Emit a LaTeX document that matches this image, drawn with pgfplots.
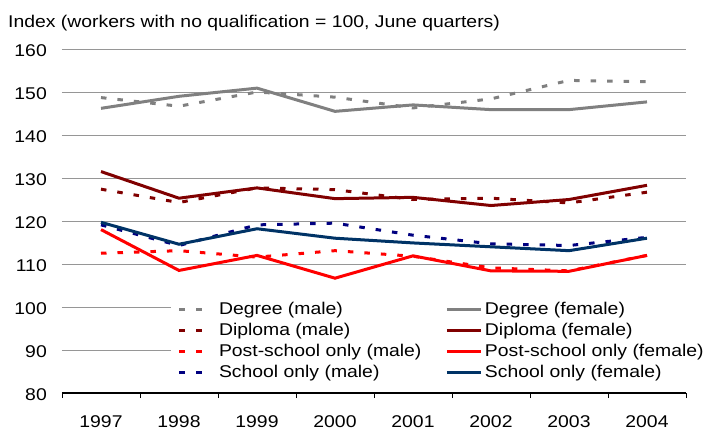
\documentclass[border=0pt]{standalone}
\usepackage{fontspec}
\setmainfont{Liberation Sans}[FakeStretch=1.14]
\usepackage{pgfplots}
\pgfplotsset{compat=1.18}

\definecolor{dgray}{RGB}{128,128,128}
\definecolor{dred}{RGB}{128,0,0}
\definecolor{bred}{RGB}{255,0,0}
\definecolor{navy}{RGB}{0,0,128}
\definecolor{steel}{RGB}{0,51,102}
\definecolor{gridc}{RGB}{150,150,150}
\newcommand{\chartfont}{\fontsize{17pt}{20pt}\selectfont}

\pgfplotsset{
  male/.style={line width=3pt, dash pattern=on 5.5pt off 11pt,
    legend image code/.code={\path[draw=none, fill=none] (0pt,-2pt) rectangle (48pt,2pt);
      \draw[##1, dash pattern=on 6pt off 11pt] (8pt,0pt) -- (32pt,0pt);}},
  female/.style={line width=3pt, solid,
    legend image code/.code={\path[draw=none, fill=none] (0pt,-2pt) rectangle (38pt,2pt);
      \draw[##1] (0pt,0pt) -- (34pt,0pt);}},
}

\begin{document}
\begin{tikzpicture}
\useasboundingbox (-62pt,-39pt) rectangle (643pt,393pt);
\begin{axis}[
  at={(0pt,0pt)}, anchor=south west,
  scale only axis, width=624pt, height=344pt,
  xmin=-0.5, xmax=7.5, ymin=80, ymax=160,
  xtick={0,...,7},
  xticklabels={1997,1998,1999,2000,2001,2002,2003,2004},
  minor xtick={-0.5,0.5,...,7.5},
  ytick={80,90,...,160},
  ymajorgrids,
  major grid style={gridc, line width=1pt},
  axis x line*=bottom, axis y line*=left,
  x axis line style={black, line width=1.5pt, -},
  y axis line style={draw=none},
  tick align=outside,
  major tick length=0pt,
  minor tick length=5pt,
  minor x tick style={black, line width=0.8pt},
  /pgf/number format/assume math mode=true,
  tick label style={font=\chartfont},
  yticklabel style={anchor=east, inner sep=0pt, xshift=-15pt, yshift=-1.5pt},
  xticklabel style={anchor=base, inner sep=0pt, yshift=-34pt},
  legend columns=2,
  legend cell align=left,
  legend style={at={(rel axis cs:0.1747,0.264)}, anchor=north west,
    draw=none, fill=white, inner sep=0pt, outer sep=0pt,
    font=\chartfont, row sep=7.3pt,
    nodes={inner sep=0pt},
    /tikz/every even column/.append style={column sep=24pt}},
]
\addplot[dgray, male] coordinates {(0,148.7) (1,146.7) (2,150.0) (3,148.8) (4,146.3) (5,148.4) (6,152.7) (7,152.4)};
\addlegendentry{Degree (male)}
\addplot[dgray, female] coordinates {(0,146.2) (1,149.0) (2,150.9) (3,145.5) (4,147.0) (5,145.9) (6,145.9) (7,147.7)};
\addlegendentry{Degree (female)}
\addplot[dred, male] coordinates {(0,127.4) (1,124.3) (2,127.7) (3,127.3) (4,125.0) (5,125.3) (6,124.2) (7,126.7)};
\addlegendentry{Diploma (male)}
\addplot[dred, female] coordinates {(0,131.5) (1,125.3) (2,127.7) (3,125.2) (4,125.5) (5,123.6) (6,125.0) (7,128.3)};
\addlegendentry{Diploma (female)}
\addplot[bred, male] coordinates {(0,112.5) (1,113.1) (2,111.6) (3,113.1) (4,111.8) (5,109.1) (6,108.4) (7,112.0)};
\addlegendentry{Post-school only (male)}
\addplot[bred, female] coordinates {(0,118.0) (1,108.5) (2,112.0) (3,106.7) (4,111.9) (5,108.4) (6,108.3) (7,112.0)};
\addlegendentry{Post-school only (female)}
\addplot[navy, male] coordinates {(0,119.1) (1,114.3) (2,119.1) (3,119.5) (4,116.7) (5,114.7) (6,114.3) (7,116.2)};
\addlegendentry{School only (male)}
\addplot[steel, female] coordinates {(0,119.7) (1,114.6) (2,118.2) (3,116.0) (4,114.9) (5,114.0) (6,113.1) (7,116.0)};
\addlegendentry{School only (female)}
\end{axis}
\node[anchor=base west, inner sep=0pt, font=\chartfont] at (-54pt,365.7pt)
  {Index (workers with no qualification = 100, June quarters)};
\end{tikzpicture}
\end{document}
